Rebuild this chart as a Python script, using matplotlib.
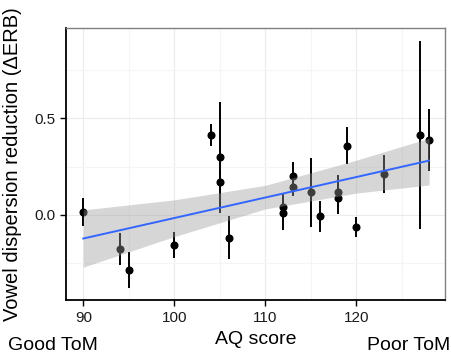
"""
AQ score vs. vowel dispersion reduction, with a linear fit and its band.
"""

import matplotlib
matplotlib.use("Agg")
import matplotlib.pyplot as plt
from matplotlib.ticker import MultipleLocator

plt.rcParams["font.family"] = ["Liberation Sans", "DejaVu Sans"]

# per-talker values
aq_score = [90, 94, 95, 100, 104, 105, 105, 106, 112, 112, 113,
            113, 115, 116, 118, 118, 119, 120, 123, 127, 128]
erb_reduction = [0.015, -0.176, -0.284, -0.157, 0.414, 0.298, 0.169, -0.117, 0.043, 0.010, 0.203,
                 0.146, 0.119, -0.005, 0.117, 0.090, 0.358, -0.062, 0.212, 0.414, 0.388]
erb_low = [-0.057, -0.259, -0.376, -0.224, 0.357, 0.009, 0.110, -0.229, -0.010, -0.078, 0.132,
           0.100, -0.060, -0.086, 0.060, 0.004, 0.262, -0.115, 0.115, -0.074, 0.229]
erb_high = [0.086, -0.095, -0.193, -0.089, 0.469, 0.586, 0.230, -0.005, 0.090, 0.107, 0.274,
            0.190, 0.293, 0.074, 0.170, 0.207, 0.457, -0.009, 0.310, 0.900, 0.547]

# linear fit and confidence band, read at a few AQ values
fit_aq = [90, 100, 110, 120, 128]
fit_erb = [-0.122, -0.016, 0.090, 0.196, 0.281]
band_low = [-0.270, -0.112, 0.031, 0.113, 0.155]
band_high = [0.026, 0.078, 0.153, 0.283, 0.397]

fig = plt.figure(figsize=(4.52, 3.54), dpi=100)
ax = fig.add_axes([66 / 452, 54 / 354, 379 / 452, 272 / 354])

ax.set_xlim(88.1, 129.75)
ax.set_ylim(-0.44, 0.967)

# grid
ax.xaxis.set_major_locator(MultipleLocator(10))
ax.xaxis.set_minor_locator(MultipleLocator(5))
ax.yaxis.set_major_locator(MultipleLocator(0.5))
ax.yaxis.set_minor_locator(MultipleLocator(0.25))
ax.grid(which="major", color="#EBEBEB", linewidth=0.8, zorder=0)
ax.grid(which="minor", color="#F5F5F5", linewidth=0.8, zorder=0)
ax.set_axisbelow(True)

# error bars and points
yerr = [
    [m - lo for m, lo in zip(erb_reduction, erb_low)],
    [hi - m for m, hi in zip(erb_reduction, erb_high)],
]
ax.errorbar(aq_score, erb_reduction, yerr=yerr, fmt="o", color="black",
            markersize=4.8, elinewidth=1.4, capsize=0, zorder=2)

# band drawn over the points, as in ggplot
ax.fill_between(fit_aq, band_low, band_high, color="#999999", alpha=0.4,
                linewidth=0, zorder=3)
ax.plot(fit_aq, fit_erb, color="#3366FF", linewidth=1.4, zorder=4)

# axes styling
for side in ["top", "right"]:
    ax.spines[side].set_color("#808080")
    ax.spines[side].set_linewidth(1.0)
for side in ["left", "bottom"]:
    ax.spines[side].set_color("black")
    ax.spines[side].set_linewidth(1.3)

ax.tick_params(which="major", direction="out", length=4.3, width=1.0,
               color="black", labelsize=11, labelcolor="#1A1A1A", pad=3.5)
ax.tick_params(which="minor", length=0)
ax.set_xticks([90, 100, 110, 120])
ax.set_xticklabels(["90", "100", "110", "120"])
ax.set_yticks([0.0, 0.5])
ax.set_yticklabels(["0.0", "0.5"])

# titles
fig.text(13 / 452, 1 - 164 / 354, "Vowel dispersion reduction (\u0394ERB)",
         rotation=90, ha="center", va="center", fontsize=14.5)
fig.text(256 / 452, 1 - 344 / 354, "AQ score", ha="center", va="baseline",
         fontsize=14)
fig.text(8 / 452, 1 - 350 / 354, "Good ToM", ha="left", va="baseline",
         fontsize=14)
fig.text(450 / 452, 1 - 350 / 354, "Poor ToM", ha="right", va="baseline",
         fontsize=14)

fig.savefig("out.png", dpi=100)
plt.close(fig)
